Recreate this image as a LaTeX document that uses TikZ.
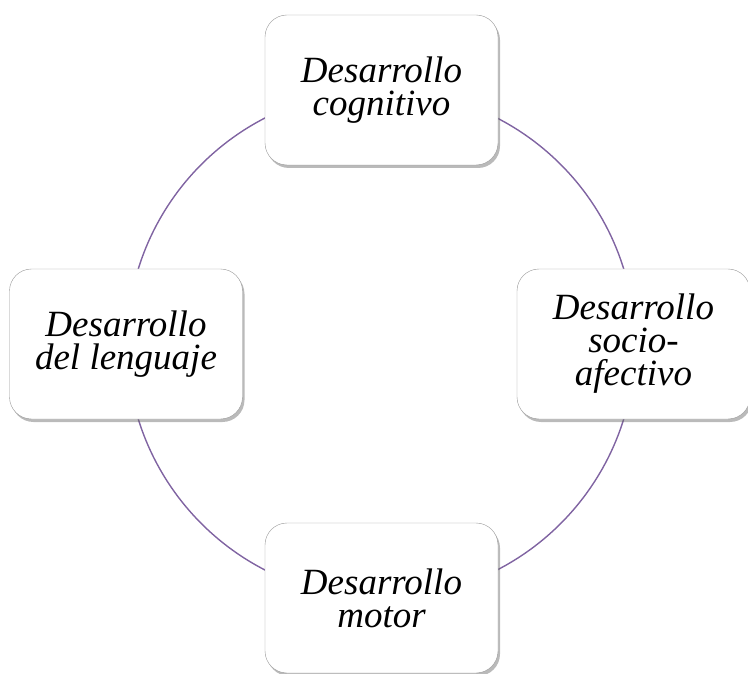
\documentclass[tikz,border=0pt]{standalone}
\usepackage{fontspec}
\setmainfont{Liberation Serif}
\usetikzlibrary{shadows}

\definecolor{ringpurple}{RGB}{128,100,162}
\tikzset{
  area/.style={draw=black!40, fill=white, rounded corners=22pt,
    minimum width=233pt, minimum height=150pt, align=center,
    font=\fontsize{37}{33}\selectfont\itshape,
    drop shadow={shadow xshift=2pt, shadow yshift=-3pt, opacity=0.45, fill=black!60}}
}

\begin{document}
\begin{tikzpicture}[x=1pt,y=-1pt]
\useasboundingbox (0,0) rectangle (748,674);

\coordinate (mid) at (381,344);
\draw[ringpurple, line width=1.4pt] (mid) circle (254);

\node[area] (cog) at (381.5,90) {Desarrollo\\cognitivo};
\node[area] (soc) at (633.5,344) {Desarrollo\\socio-\\afectivo};
\node[area] (mot) at (381.5,598) {Desarrollo\\motor};
\node[area] (len) at (126,344) {Desarrollo\\del lenguaje};
\end{tikzpicture}
\end{document}
